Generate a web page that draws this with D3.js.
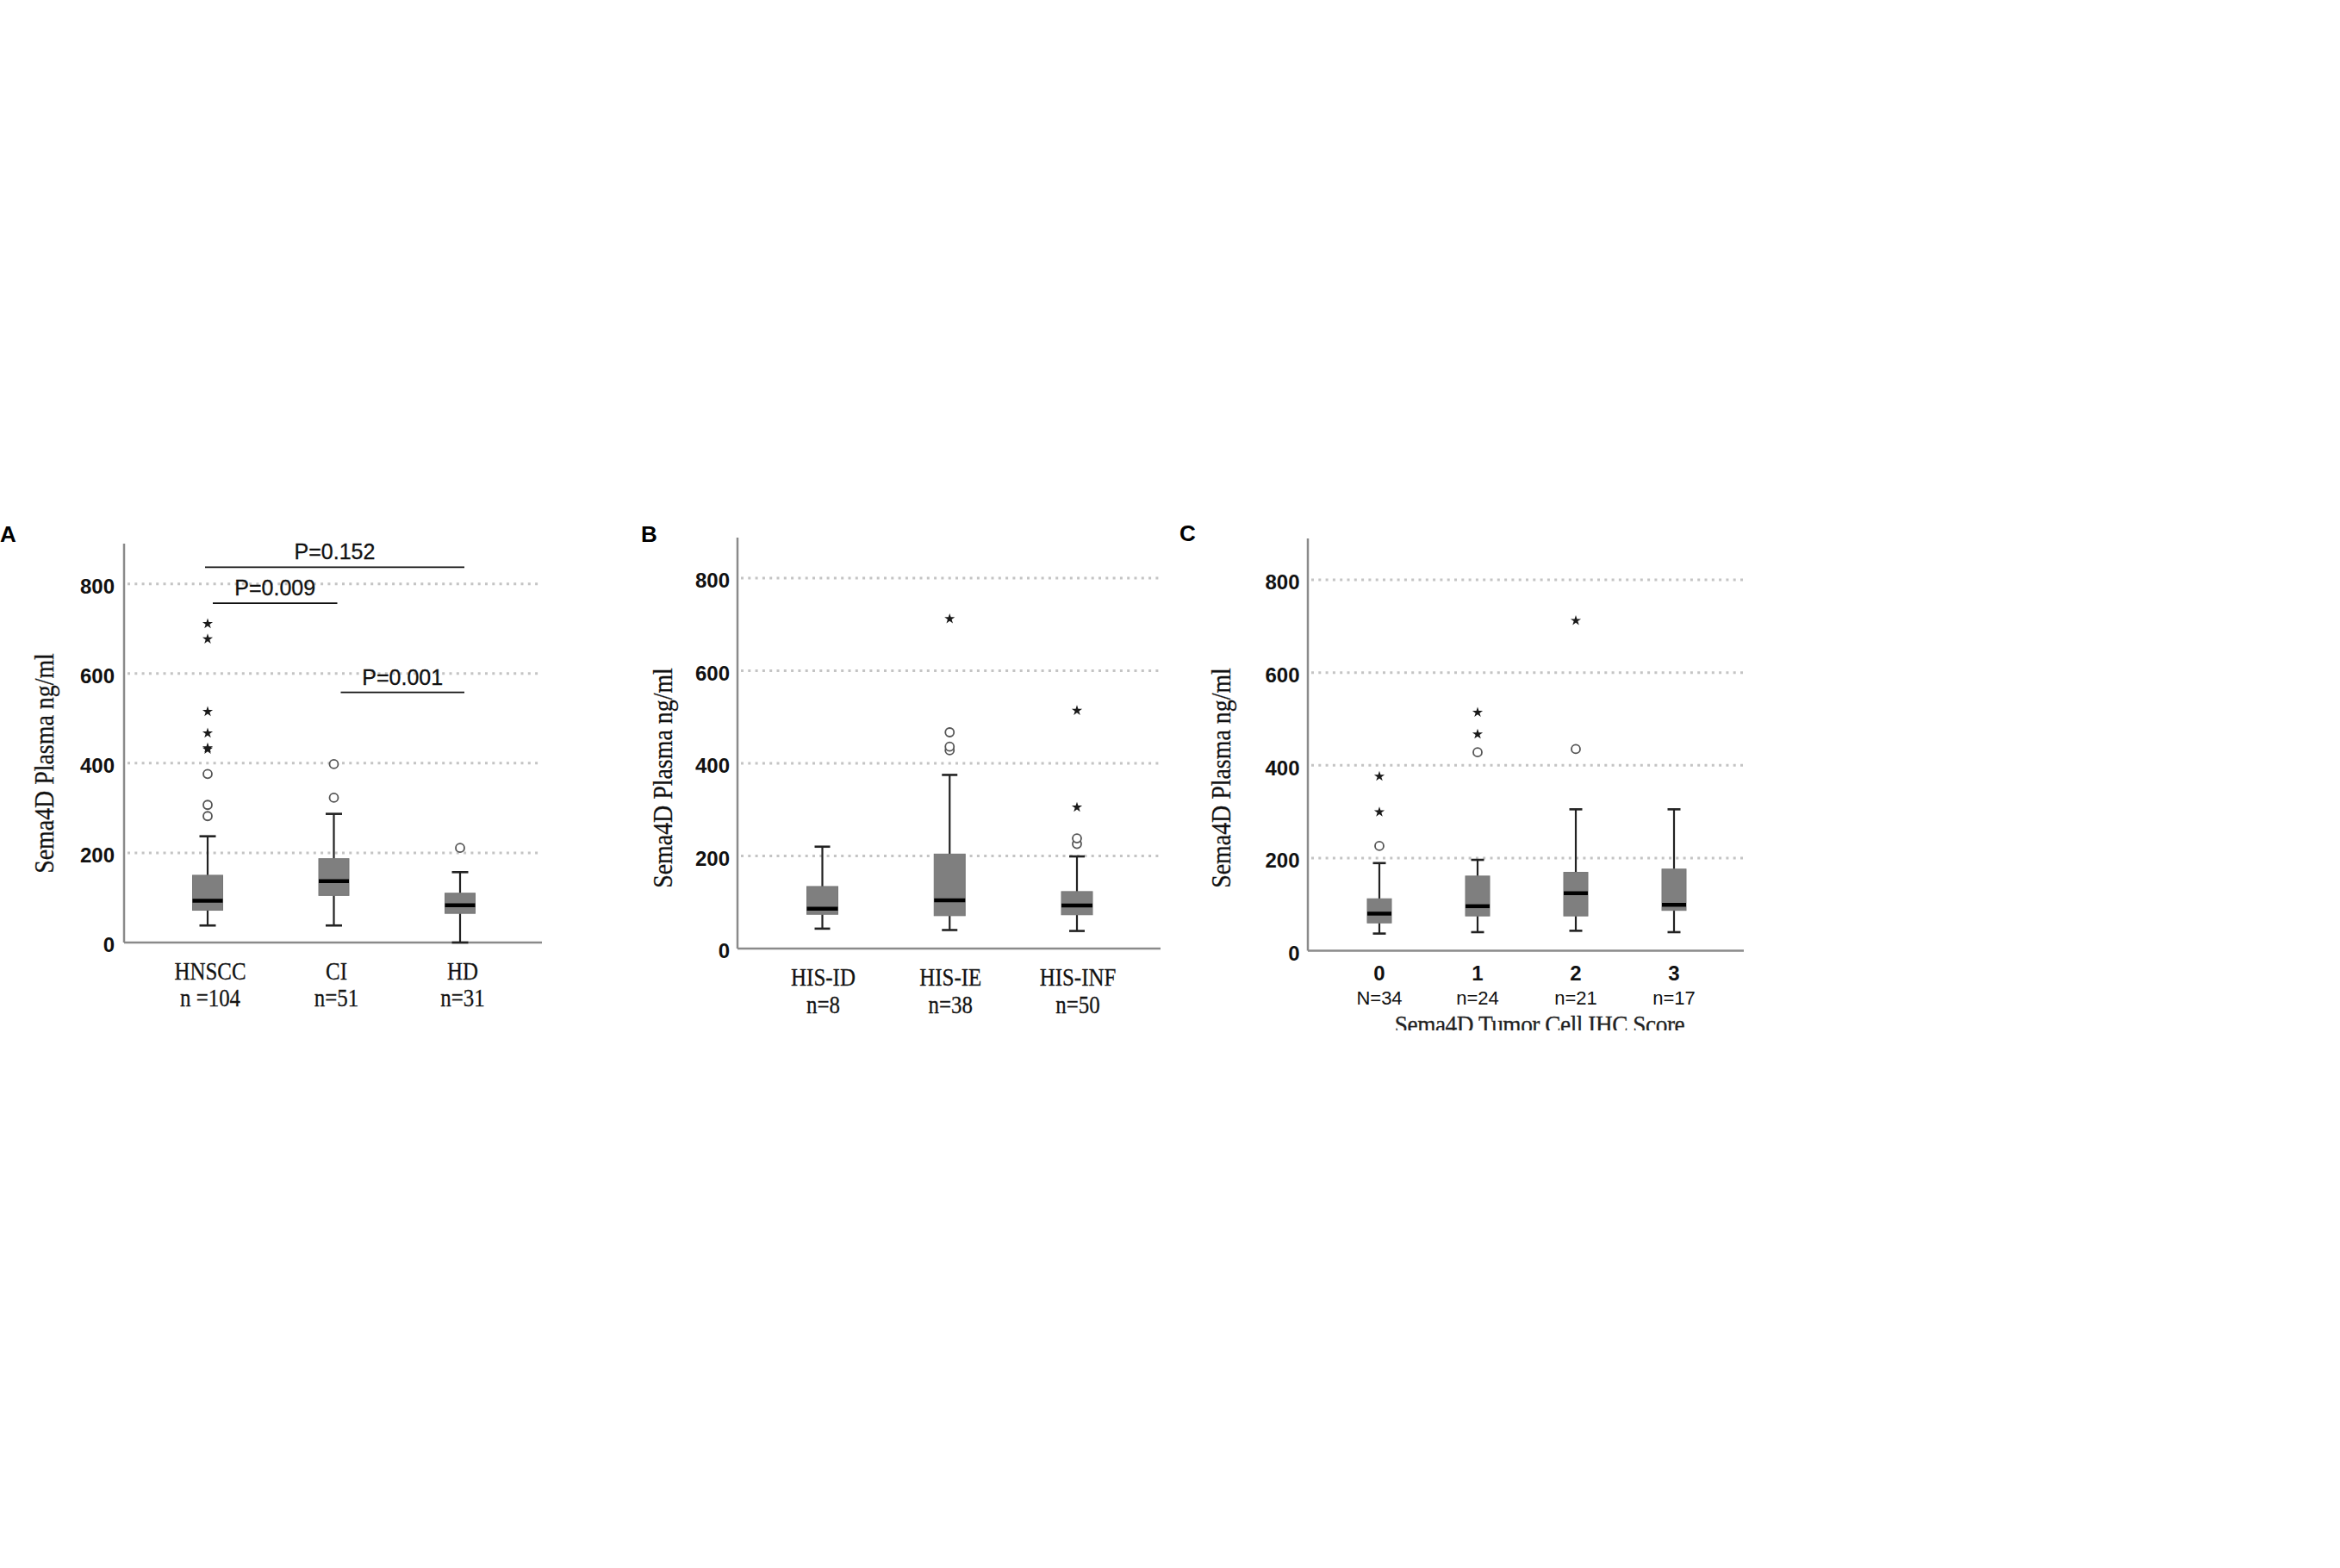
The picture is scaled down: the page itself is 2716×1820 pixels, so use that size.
<!DOCTYPE html>
<html><head><meta charset="utf-8">
<script src="https://cdn.jsdelivr.net/npm/d3@7"></script>
<style>html,body{margin:0;padding:0;background:#fff;} svg{display:block;}</style>
</head><body>
<svg id="chart" width="2716" height="1820"></svg>
<script>
// ---------- data ----------
const yTicks = [0, 200, 400, 600, 800];
const yGridTicks = [200, 400, 600, 800];
const yTitle = "Sema4D Plasma ng/ml";

// Panel A
const aCategories = ["HNSCC", "CI", "HD"];
const aCounts = ["n =104", "n=51", "n=31"];
const aLow = [38, 38, 0];
const aQ1 = [72, 105, 65];
const aMedian = [93, 137, 83];
const aQ3 = [150, 187, 110];
const aHigh = [237, 287, 157];
const aCircles = [[282, 307, 376], [323, 398], [211]];
const aStars = [[431, 434, 467, 515, 677, 711], [], []];
const aCompareFrom = ["HNSCC", "HNSCC", "CI"];
const aCompareTo = ["HD", "CI", "HD"];
const aCompareY = [837, 757, 558];
const aCompareLabels = ["P=0.152", "P=0.009", "P=0.001"];

// Panel B
const bCategories = ["HIS-ID", "HIS-IE", "HIS-INF"];
const bCounts = ["n=8", "n=38", "n=50"];
const bLow = [43, 40, 38];
const bQ1 = [74, 71, 73];
const bMedian = [86, 104, 93];
const bQ3 = [134, 204, 123];
const bHigh = [220, 375, 199];
const bCircles = [[], [428, 436, 467], [226, 238]];
const bStars = [[], [712], [305, 514]];

// Panel C
const cCategories = ["0", "1", "2", "3"];
const cCounts = ["N=34", "n=24", "n=21", "n=17"];
const cLow = [37, 40, 43, 40];
const cQ1 = [60, 75, 75, 87];
const cMedian = [80, 96, 124, 99];
const cQ3 = [112, 161, 169, 176];
const cHigh = [189, 196, 305, 305];
const cCircles = [[226], [428], [435], []];
const cStars = [[299, 376], [467, 514], [712], []];
const cXTitle = "Sema4D Tumor Cell IHC Score";

// ---------- drawing ----------
const SANS = "'Liberation Sans', Arial, sans-serif";
const SERIF = "'Liberation Serif', 'Times New Roman', serif";
const svg = d3.select("#chart");
svg.append("rect").attr("width", 2716).attr("height", 1820).attr("fill", "#fff");

function drawPanel(p) {
  const g = svg.append("g");
  const x = d3.scalePoint().domain(p.categories).range([p.xFirst, p.xLast]);
  const y = d3.scaleLinear().domain([0, 800]).range([p.y0, p.y800]);

  // panel letter
  g.append("text").attr("x", p.letterX).attr("y", p.letterY)
    .attr("font-family", SANS).attr("font-weight", "bold").attr("font-size", 26)
    .attr("fill", "#000").text(p.letter);

  // gridlines
  g.selectAll(".grid").data(yGridTicks).join("line")
    .attr("x1", p.left + 4).attr("x2", p.right)
    .attr("y1", d => y(d)).attr("y2", d => y(d))
    .attr("stroke", "#c4c4c4").attr("stroke-width", 3)
    .attr("stroke-dasharray", "3,5.3");

  // y axis labels via d3 axis
  const ax = g.append("g").attr("transform", `translate(${p.left},0)`)
    .call(d3.axisLeft(y).tickValues(yTicks).tickSize(0).tickPadding(p.tickPad));
  ax.select(".domain").remove();
  ax.selectAll("text").attr("font-family", SANS).attr("font-weight", "bold")
    .attr("font-size", 24).attr("fill", "#111").attr("dy", "0.45em");

  // axis lines
  g.append("line").attr("x1", p.left).attr("x2", p.left).attr("y1", p.top).attr("y2", p.y0)
    .attr("stroke", "#8a8a8a").attr("stroke-width", 2.5);
  g.append("line").attr("x1", p.left).attr("x2", p.right).attr("y1", p.y0).attr("y2", p.y0)
    .attr("stroke", "#8a8a8a").attr("stroke-width", 2.5);

  // y title (narrow serif)
  g.append("text").attr("transform", `translate(${p.yTitleX},${p.yTitleY}) rotate(-90) scale(0.9,1)`)
    .attr("text-anchor", "middle").attr("font-family", SERIF).attr("font-size", 31)
    .attr("stroke", "#222").attr("stroke-width", 0.3)
    .attr("fill", "#111").text(yTitle);

  // boxes
  p.categories.forEach((c, i) => {
    const cx = x(c);
    const bw = p.boxW, cw = p.capW;
    // whiskers
    g.append("line").attr("x1", cx).attr("x2", cx).attr("y1", y(p.low[i])).attr("y2", y(p.q1[i]))
      .attr("stroke", "#222").attr("stroke-width", 2.2);
    g.append("line").attr("x1", cx).attr("x2", cx).attr("y1", y(p.q3[i])).attr("y2", y(p.high[i]))
      .attr("stroke", "#222").attr("stroke-width", 2.2);
    g.append("line").attr("x1", cx - cw / 2).attr("x2", cx + cw / 2).attr("y1", y(p.low[i])).attr("y2", y(p.low[i]))
      .attr("stroke", "#222").attr("stroke-width", 2.6);
    g.append("line").attr("x1", cx - cw / 2).attr("x2", cx + cw / 2).attr("y1", y(p.high[i])).attr("y2", y(p.high[i]))
      .attr("stroke", "#222").attr("stroke-width", 2.6);
    // box
    g.append("rect").attr("x", cx - bw / 2).attr("width", bw)
      .attr("y", y(p.q3[i])).attr("height", y(p.q1[i]) - y(p.q3[i]))
      .attr("fill", "#7f7f7f").attr("stroke", "#767676").attr("stroke-width", 1);
    // median
    g.append("line").attr("x1", cx - bw / 2).attr("x2", cx + bw / 2)
      .attr("y1", y(p.median[i])).attr("y2", y(p.median[i]))
      .attr("stroke", "#000").attr("stroke-width", 4.5);
    // outliers
    p.circles[i].forEach(v => {
      g.append("circle").attr("cx", cx).attr("cy", y(v)).attr("r", 5)
        .attr("fill", "#fff").attr("stroke", "#555").attr("stroke-width", 1.8);
    });
    p.stars[i].forEach(v => {
      g.append("path").attr("d", d3.symbol(d3.symbolStar).size(46)())
        .attr("transform", `translate(${cx},${y(v)})`).attr("fill", "#1a1a1a");
    });
    // category labels
    const lx = cx + p.labelShift;
    g.append("text").attr("transform", `translate(${lx},${p.catY}) scale(${p.catScale},1)`)
      .attr("text-anchor", "middle")
      .attr("font-family", p.catFamily).attr("font-weight", p.catWeight)
      .attr("font-size", p.catSize).attr("fill", "#111")
      .attr("stroke", p.catFamily === SERIF ? "#222" : "none").attr("stroke-width", 0.3)
      .text(c);
    g.append("text").attr("transform", `translate(${lx},${p.nY}) scale(${p.nScale},1)`)
      .attr("text-anchor", "middle")
      .attr("font-family", p.nFamily).attr("font-size", p.nSize)
      .attr("stroke", p.nFamily === SERIF ? "#222" : "none").attr("stroke-width", 0.3)
      .attr("fill", "#111").text(p.counts[i]);
  });

  // comparisons
  if (p.compareLabels) {
    p.compareLabels.forEach((lab, i) => {
      const x1 = x(p.compareFrom[i]) + p.compareOffsets[i][0];
      const x2 = x(p.compareTo[i]) + p.compareOffsets[i][1];
      const yy = y(p.compareY[i]);
      g.append("line").attr("x1", x1).attr("x2", x2).attr("y1", yy).attr("y2", yy)
        .attr("stroke", "#111").attr("stroke-width", 1.8);
      g.append("text").attr("x", (x1 + x2) / 2).attr("y", yy - 9).attr("text-anchor", "middle")
        .attr("font-family", SANS).attr("font-size", 25).attr("fill", "#111")
        .attr("stroke", "#111").attr("stroke-width", 0.3).text(lab);
    });
  }

  // x title (clipped at bottom as in the source image)
  if (p.xTitle) {
    const clipId = "clip" + p.letter;
    svg.append("clipPath").attr("id", clipId).append("rect")
      .attr("x", p.left).attr("y", p.xTitleY - 32).attr("width", p.right - p.left).attr("height", 31);
    g.append("g").attr("clip-path", `url(#${clipId})`)
      .append("text")
      .attr("transform", `translate(${(p.xFirst + p.xLast) / 2 + p.xTitleShift},${p.xTitleY + 2}) scale(0.91,1)`)
      .attr("text-anchor", "middle").attr("font-family", SERIF).attr("font-size", 30)
      .attr("letter-spacing", -0.5).attr("fill", "#222")
      .attr("stroke", "#222").attr("stroke-width", 0.3)
      .text(p.xTitle);
  }
}

drawPanel({
  letter: "A", letterX: 0, letterY: 629,
  left: 144, right: 629, top: 631, y0: 1094, y800: 677.7,
  xFirst: 241, xLast: 534, boxW: 35, capW: 19, tickPad: 11,
  yTitleX: 62, yTitleY: 886,
  categories: aCategories, counts: aCounts,
  low: aLow, q1: aQ1, median: aMedian, q3: aQ3, high: aHigh,
  circles: aCircles, stars: aStars, labelShift: 3,
  catY: 1137, nY: 1168, catFamily: SERIF, catWeight: "normal", catSize: 29, catScale: 0.86,
  nFamily: SERIF, nSize: 29, nScale: 0.86,
  compareFrom: aCompareFrom, compareTo: aCompareTo, compareY: aCompareY,
  compareLabels: aCompareLabels, compareOffsets: [[-3, 5], [6, 4], [8, 5]]
});

drawPanel({
  letter: "B", letterX: 744, letterY: 629,
  left: 856, right: 1347, top: 624, y0: 1101, y800: 671,
  xFirst: 954.5, xLast: 1250, boxW: 36, capW: 18, tickPad: 9,
  yTitleX: 780, yTitleY: 903,
  categories: bCategories, counts: bCounts,
  low: bLow, q1: bQ1, median: bMedian, q3: bQ3, high: bHigh,
  circles: bCircles, stars: bStars, labelShift: 1,
  catY: 1144, nY: 1176, catFamily: SERIF, catWeight: "normal", catSize: 29, catScale: 0.86,
  nFamily: SERIF, nSize: 29, nScale: 0.86
});

drawPanel({
  letter: "C", letterX: 1369, letterY: 628,
  left: 1518, right: 2024, top: 625, y0: 1103.5, y800: 673,
  xFirst: 1601, xLast: 1943, boxW: 28, capW: 15, tickPad: 9.5,
  yTitleX: 1428, yTitleY: 903,
  categories: cCategories, counts: cCounts,
  low: cLow, q1: cQ1, median: cMedian, q3: cQ3, high: cHigh,
  circles: cCircles, stars: cStars, labelShift: 0,
  catY: 1138, nY: 1166, catFamily: SANS, catWeight: "bold", catSize: 24, catScale: 1,
  nFamily: SANS, nSize: 22, nScale: 1,
  xTitle: cXTitle, xTitleY: 1197, xTitleShift: 15
});
</script>
</body></html>
